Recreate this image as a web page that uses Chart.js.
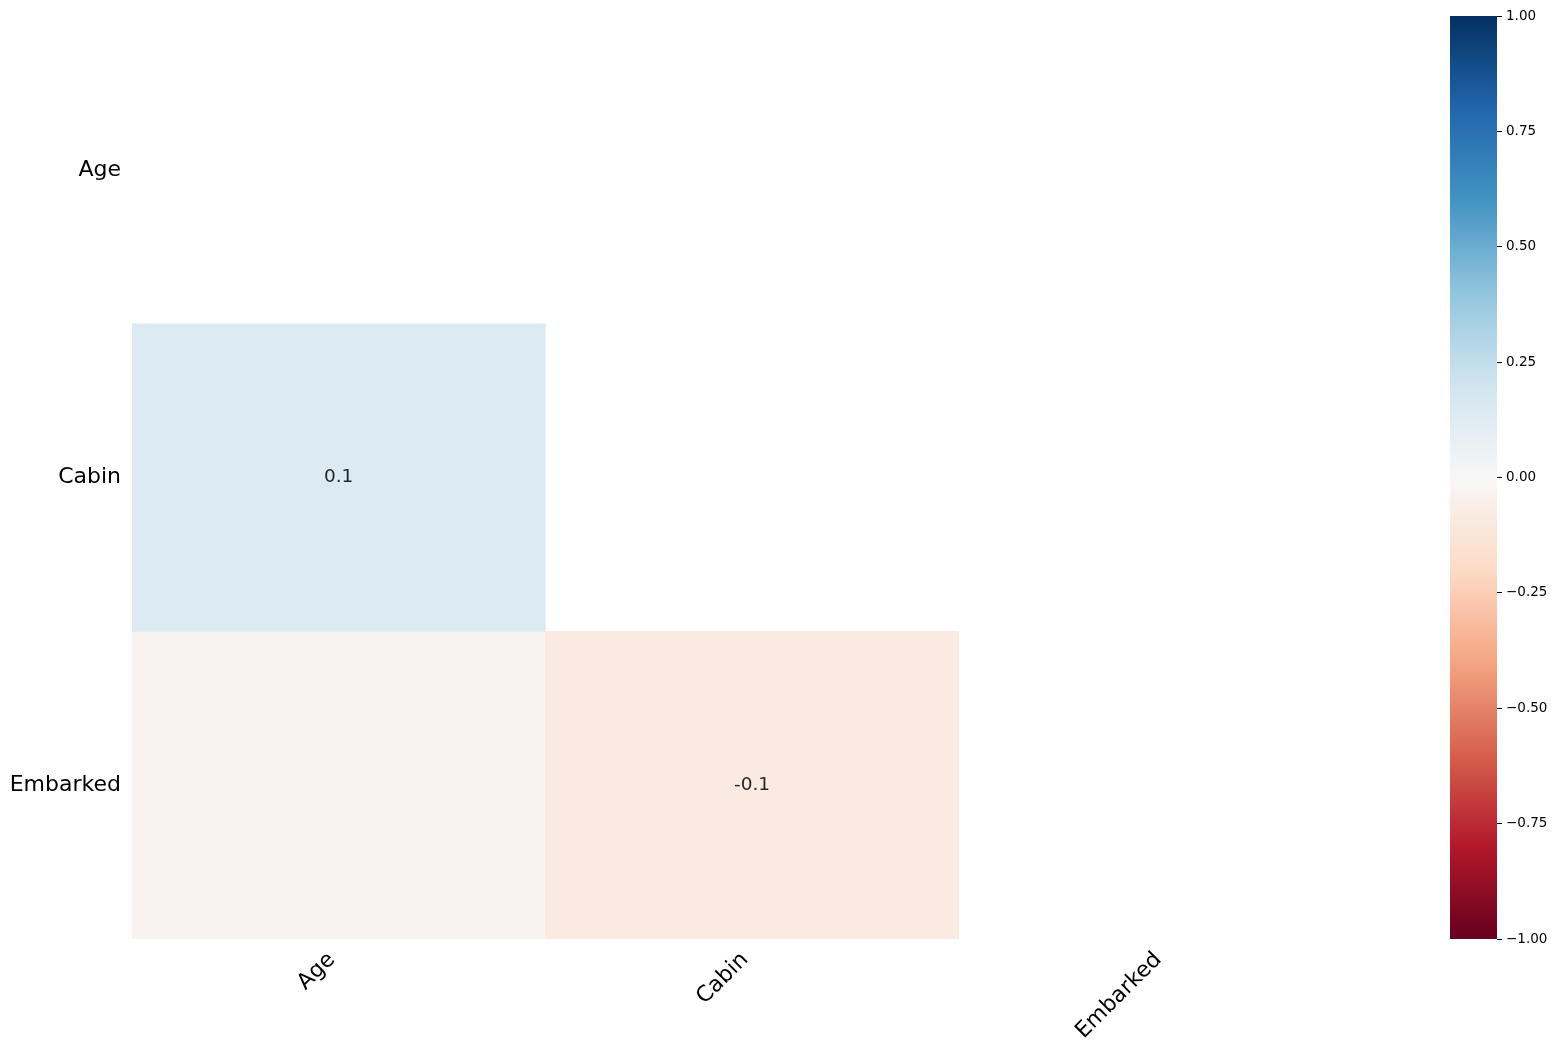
<!DOCTYPE html>
<html>
<head>
<meta charset="utf-8">
<title>Nullity correlation</title>
<script src="https://cdn.jsdelivr.net/npm/chart.js@4.4.1/dist/chart.umd.min.js"></script>
<style>
    html, body { margin: 0; padding: 0; background: #fff; }
    #wrap { position: relative; width: 1558px; height: 1052px; }
    #heat { position: absolute; left: 0; top: 0; }
    #cbar { position: absolute; left: 1450px; top: 0; }
</style>
</head>
<body>
<div id="wrap">
    <canvas id="heat" width="1372" height="1052"></canvas>
    <canvas id="cbar" width="108" height="1052"></canvas>
</div>
<script>
// Variables (rows and columns of the nullity correlation matrix)
const variables = ['Age', 'Cabin', 'Embarked'];

// Lower triangle values, one array per row (null = masked cell)
const ageRow = [null, null, null];
const cabinRow = [0.14, null, null];
const embarkedRow = [-0.03, -0.09, null];

// Colorbar ticks
const cbarTicks = [-1, -0.75, -0.5, -0.25, 0, 0.25, 0.5, 0.75, 1];

// RdBu colormap stops (matplotlib)
const rdbu = ['#67001f', '#b2182b', '#d6604d', '#f4a582', '#fddbc7', '#f7f7f7',
              '#d1e5f0', '#92c5de', '#4393c3', '#2166ac', '#053061'];

const hexToRgb = h => [1, 3, 5].map(i => parseInt(h.substr(i, 2), 16));

// value in [-1, 1] -> colour
const colorFor = v => {
    const t = Math.min(1, Math.max(0, (v + 1) / 2)) * (rdbu.length - 1);
    const i = Math.min(rdbu.length - 2, Math.floor(t));
    const f = t - i;
    const a = hexToRgb(rdbu[i]), b = hexToRgb(rdbu[i + 1]);
    const c = a.map((x, k) => Math.round(x + (b[k] - x) * f));
    return `rgb(${c[0]}, ${c[1]}, ${c[2]})`;
};

// missingno style annotation: one decimal, hide values that round to zero
const fmtCell = v => {
    if (v === null) return '';
    const r = Math.round(v * 10) / 10;
    return r === 0 ? '' : r.toFixed(1);
};

const rows = [ageRow, cabinRow, embarkedRow];

const datasets = rows.map((vals, r) => ({
    label: variables[r],
    data: vals.map(v => v === null ? null : [r, r + 1]),
    backgroundColor: vals.map(v => v === null ? 'rgba(0,0,0,0)' : colorFor(v)),
    cellText: vals.map(fmtCell),
    borderWidth: 0,
    barPercentage: 1,
    categoryPercentage: 1,
    grouped: false
}));

// Draw the cell annotations
const cellTextPlugin = {
    id: 'cellText',
    afterDatasetsDraw(chart) {
        const ctx = chart.ctx;
        ctx.save();
        ctx.font = '18.5px "DejaVu Sans"';
        ctx.fillStyle = '#262626';
        ctx.textAlign = 'center';
        ctx.textBaseline = 'middle';
        chart.data.datasets.forEach((ds, i) => {
            const meta = chart.getDatasetMeta(i);
            meta.data.forEach((bar, j) => {
                const txt = ds.cellText[j];
                if (!txt || ds.data[j] === null) return;
                ctx.fillText(txt, bar.x, (bar.y + bar.base) / 2);
            });
        });
        ctx.restore();
    }
};

new Chart(document.getElementById('heat'), {
    type: 'bar',
    data: { labels: variables, datasets: datasets },
    plugins: [cellTextPlugin],
    options: {
        responsive: false,
        animation: false,
        layout: { padding: { top: 10, left: 0, right: 0, bottom: 0 } },
        plugins: { legend: { display: false }, tooltip: { enabled: false } },
        scales: {
            x: {
                type: 'category',
                grid: { display: false },
                border: { display: false },
                ticks: {
                    minRotation: 45,
                    maxRotation: 45,
                    padding: 0,
                    labelOffset: -7,
                    color: '#000',
                    font: { family: 'DejaVu Sans', size: 22 }
                },
                afterFit: a => { a.height = 113; }
            },
            y: {
                type: 'linear',
                min: 0,
                max: 3,
                reverse: true,
                grid: { display: false },
                border: { display: false },
                afterBuildTicks: a => {
                    a.ticks = variables.map((_, i) => ({ value: i + 0.5 }));
                },
                ticks: {
                    padding: 3,
                    color: '#000',
                    font: { family: 'DejaVu Sans', size: 22 },
                    callback: v => variables[Math.floor(v)]
                },
                afterFit: a => { a.width = 132; }
            }
        }
    }
});

// Colorbar
new Chart(document.getElementById('cbar'), {
    type: 'bar',
    data: {
        labels: [''],
        datasets: [{
            data: [[-1, 1]],
            borderWidth: 0,
            barPercentage: 1,
            categoryPercentage: 1,
            backgroundColor: c => {
                const area = c.chart.chartArea;
                if (!area) return '#fff';
                const g = c.chart.ctx.createLinearGradient(0, area.bottom, 0, area.top);
                rdbu.forEach((col, i) => g.addColorStop(i / (rdbu.length - 1), col));
                return g;
            }
        }]
    },
    options: {
        responsive: false,
        animation: false,
        layout: { padding: { top: 16, left: 0, right: 0, bottom: 113 } },
        plugins: { legend: { display: false }, tooltip: { enabled: false } },
        scales: {
            x: { display: false },
            y: {
                position: 'right',
                min: -1,
                max: 1,
                border: { display: false },
                grid: { drawOnChartArea: false, drawTicks: true, tickLength: 5, color: '#000' },
                afterBuildTicks: a => {
                    a.ticks = cbarTicks.map(v => ({ value: v }));
                },
                ticks: {
                    padding: 4,
                    color: '#000',
                    font: { family: 'DejaVu Sans', size: 13.5 },
                    callback: v => v.toFixed(2).replace('-', '\u2212')
                },
                afterFit: a => { a.width = 61; }
            }
        }
    }
});
</script>
</body>
</html>
